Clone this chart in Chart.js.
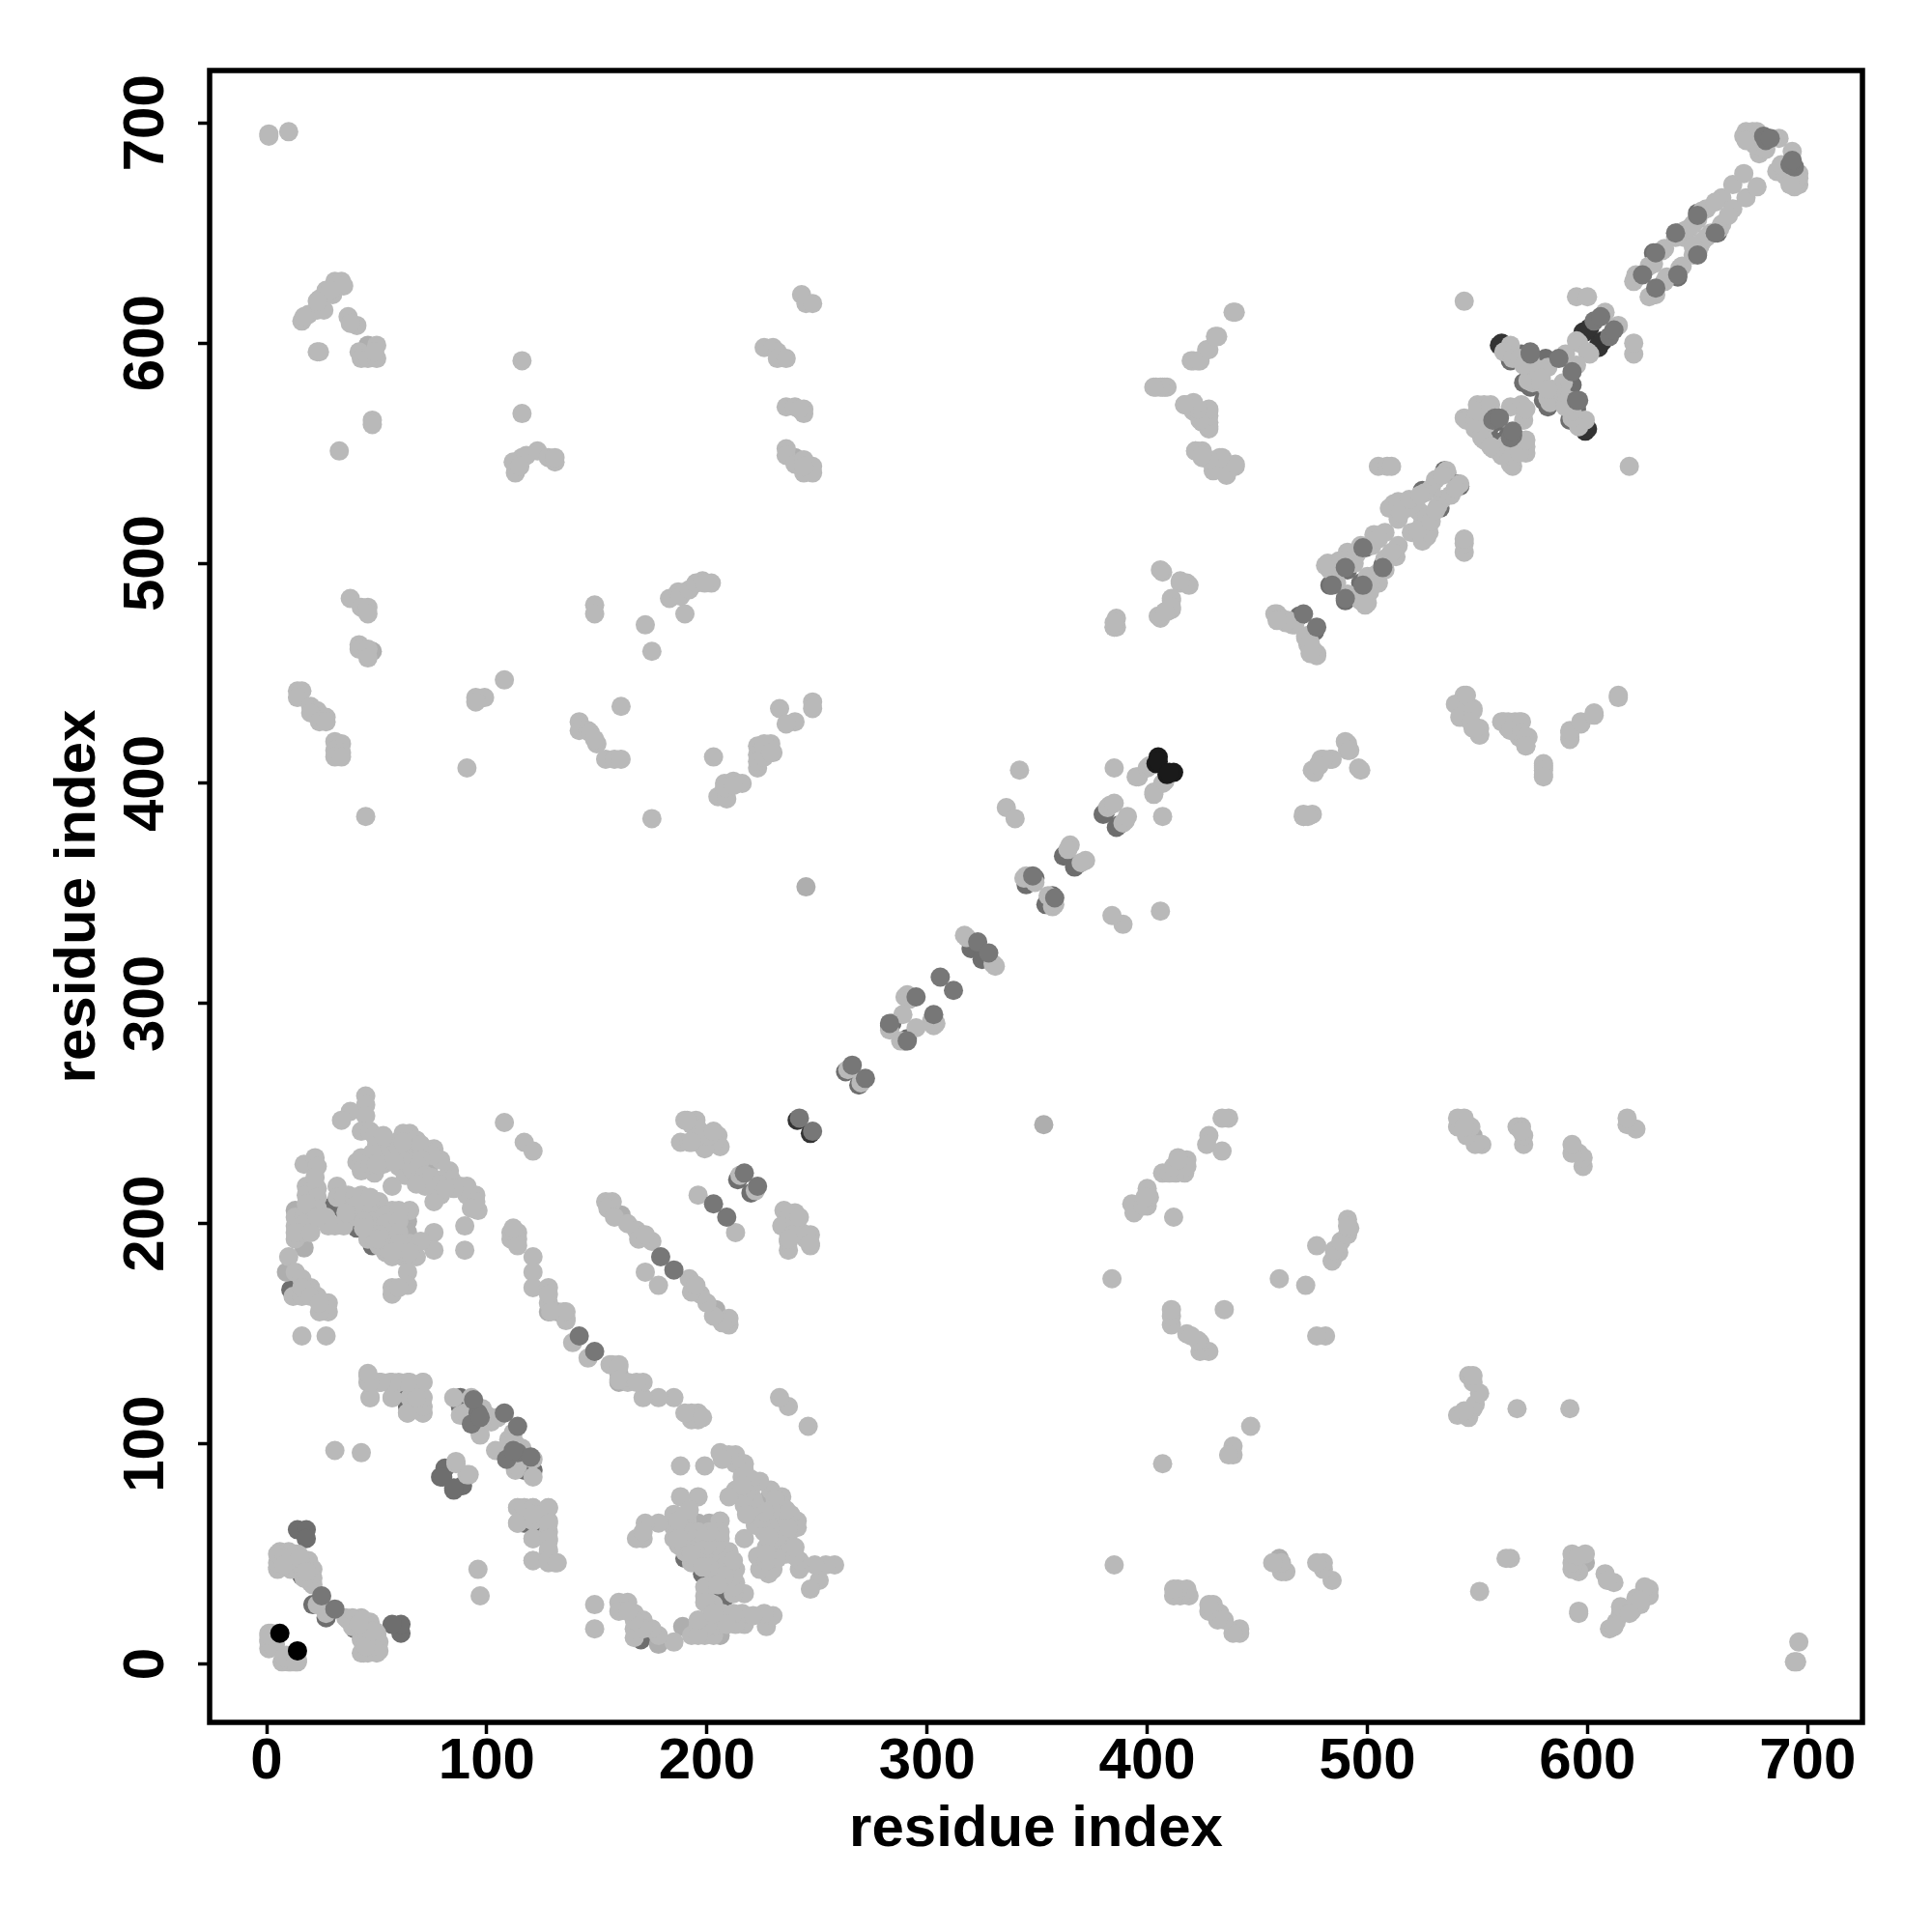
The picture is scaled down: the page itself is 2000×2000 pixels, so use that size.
<!DOCTYPE html>
<html><head><meta charset="utf-8">
<style>html,body{margin:0;padding:0;background:#fff}canvas{display:block}</style>
<script src="https://cdn.jsdelivr.net/npm/chart.js@4"></script></head>
<body><canvas id="c" width="2000" height="2000"></canvas>
<script>
const tickValues=[0,100,200,300,400,500,600,700];
const axisTitle="residue index";
// contact pairs [residue a, residue b]; a contact map is symmetric, each pair is plotted at (a,b) and (b,a)
const contactsBlack=[[6,14]];
const contactsNearBlack=[[405,412],[404,409],[405,410]];
const contactsDarkUnder=[[241,247],[599,605],[598,605],[600,606],[601,607],[560,599],[561,600]];
const contactsMidUnder=[[30,208],[35,206],[38,204],[41,198],[48,190],[11,170],[380,386],[381,387],[362,367],[363,368],[345,354],[349,357],[320,325],[283,290],[284,291],[263,269],[88,121],[90,120],[91,117],[94,111],[88,117],[81,89],[79,85],[80,85],[3,12],[3,9],[17,41],[21,27],[483,490],[488,497],[491,497],[497,507],[499,507],[516,527],[535,542],[525,533],[515,525],[536,541],[553,564],[555,560],[558,564],[565,592],[570,595],[581,593],[574,580],[571,582],[622,630],[630,641],[641,650],[650,659],[469,476],[677,690],[64,121],[64,117],[14,61],[18,61],[18,57],[16,40],[214,220]];
const contactsPale=[[245,353],[48,460],[46,599],[240,548],[9,178],[161,204],[128,160],[132,160],[17,189],[13,206],[64,201],[57,201],[57,196],[64,196],[18,40],[17,44],[72,226],[75,228]];
const contactsLight=[
[1,695],[1,694],[10,696],[16,610],[19,613],[23,615],[24,620],[27,624],[31,628],[34,628],[35,626],[30,622],[26,615],[17,612],[29,624],[23,619],[37,612],[41,608],[38,609],[23,596],[24,596],[42,596],[43,593],[46,593],[50,599],[50,593],[49,596],[48,565],[48,563],[33,551],
[116,592],[116,568],[113,541],[112,546],[116,548],[118,549],[123,551],[128,548],[131,546],[131,548],[115,544],[243,622],[245,618],[248,618],[226,598],[230,598],[232,596],[232,593],[236,593],[236,571],[240,571],[244,570],[244,568],[242,570],[236,552],[236,549],[240,545],[244,547],[248,544],[244,541],[248,541],[244,544],
[38,484],[43,480],[46,480],[46,477],[42,463],[42,461],[46,461],[46,457],[149,481],[149,477],[172,472],[175,460],[183,484],[187,487],[190,477],[188,485],[192,488],[195,491],[198,492],[202,491],[199,491],
[14,442],[16,442],[14,439],[20,435],[23,433],[20,432],[27,430],[24,428],[27,428],[31,419],[34,418],[31,415],[34,414],[31,412],[34,412],[45,385],[108,447],[99,439],[95,439],[95,437],[91,407],[161,435],[142,428],[142,424],[146,424],[147,423],[150,418],[149,420],[154,411],[158,411],[161,411],[175,384],[203,412],[233,434],[240,428],[236,427],[248,437],[248,434],[223,417],[223,413],[223,407],[226,414],[223,410],[226,412],[229,418],[230,414],[226,418],[229,414],[208,400],[212,401],[216,400],[205,394],[209,393],[208,398],[212,399],
[440,614],[432,603],[427,597],[423,592],[420,592],[404,580],[407,580],[409,580],[417,572],[421,573],[421,569],[425,569],[428,569],[425,564],[428,564],[428,561],[424,568],[422,551],[425,551],[425,548],[430,544],[434,548],[436,544],[436,540],[440,544],[433,544],[407,496],[415,491],[419,490],[386,475],[386,471],[385,471],[406,475],[409,478],[411,483],[411,479],[342,406],[385,407],[395,403],[396,403],[400,407],[401,408],
[382,389],[383,390],[385,391],[365,372],[364,370],[344,357],[349,355],[345,358],[346,357],[317,331],[318,330],[290,303],[291,304],[292,302],[289,295],[283,288],[264,270],
[215,222],[196,213],[190,247],[195,247],[193,245],[196,243],[202,241],[205,240],[188,237],[192,237],[196,237],[199,235],[206,235],[200,238],[203,237],
[154,210],[157,210],[155,207],[158,203],[164,200],[168,197],[169,193],[175,192],[172,195],[172,178],[111,196],[114,196],[111,193],[114,193],[114,190],[121,185],[121,178],[121,171],[128,171],[128,164],[136,160],[136,156],[139,146],[136,157],[135,160],[129,160],[128,168],[112,198],[108,246],[117,237],[121,233],
[199,234],[201,240],[191,247],[195,239],[203,242],[193,237],
[45,258],[45,254],[38,251],[34,247],[45,249],[43,242],[47,242],[53,238],[62,241],[65,241],[68,238],[57,234],[59,237],[76,234],[72,234],[63,232],[66,229],[79,229],[83,224],[60,226],[63,222],[68,222],[71,219],[76,217],[79,213],[76,210],[41,228],[43,230],[43,224],[49,223],[53,227],[57,217],[56,229],[88,217],[91,217],[95,213],[91,213],[96,206],[95,210],[93,207],[90,199],[90,188],
[50,236],[55,236],[53,233],[58,232],[60,234],[65,237],[62,237],[70,236],[75,231],[70,229],[63,228],[58,228],[66,225],[69,226],[72,222],[75,221],[80,220],[84,220],[78,218],[72,217],[68,218],[48,232],[47,227],[50,227],[49,240],[53,240],[85,216],[81,216],
[17,227],[22,230],[23,226],[18,217],[18,213],[23,216],[23,212],[13,199],[23,207],[20,200],[13,193],[10,185],[27,203],[31,199],[35,199],[28,199],[13,203],[17,203],[17,200],[17,196],[13,196],[20,196],[22,221],[18,209],[23,203],
[32,217],[37,213],[43,213],[51,210],[57,206],[65,206],[32,212],[37,208],[43,207],[51,204],[41,203],[47,199],[53,195],[57,191],[65,191],[54,187],[57,185],[62,185],[68,185],[51,190],[46,193],[76,196],[76,188],[70,192],[64,178],[64,172],[57,171],[57,168],[60,171],
[40,207],[44,205],[47,205],[48,201],[51,200],[54,204],[54,200],[54,192],[60,206],[60,201],[60,196],[60,191],[60,187],[65,187],[51,195],[47,195],[57,187],[35,212],[40,212],[47,212],[40,208],[36,205],[44,201],[50,193],[44,198],
[13,178],[16,175],[20,171],[12,167],[16,167],[23,167],[28,164],[28,160],[24,160],[19,170],[16,149],[27,149],[16,171],[20,167],[24,164],
[46,128],[51,128],[56,128],[60,128],[65,128],[71,128],[47,121],[57,121],[46,131],[64,114],[71,114],[71,117],[71,121],[68,121],[65,121],[31,97],[43,96],
[85,121],[88,113],[90,114],[98,116],[97,104],[100,113],[102,110],[105,112],[93,121],
[114,71],[117,71],[121,71],[128,71],[114,64],[121,68],[121,57],[121,47],[128,64],[128,57],[128,52],[128,47],[132,46],
[6,51],[10,51],[13,50],[5,44],[6,47],[15,49],[19,47],[21,43],[21,39],[21,36],[13,44],[17,46],[16,43],[19,42],[10,47],[23,27],
[20,37],[20,40],[20,44],[17,39],[17,47],[11,43],[14,50],[10,50],[5,43],[5,46],[5,50],[11,47],[16,44],[12,50],[8,48],[14,46],[8,45],[15,48],[18,42],
[1,14],[1,10],[1,7],[1,11],[2,9],[4,9],[2,14],[3,8],[1,13],
[86,91],[92,86],
[483,497],[486,491],[481,499],[487,501],[491,505],[494,500],[502,508],[508,514],[512,525],[518,525],[514,520],[523,524],[529,534],[531,538],[536,542],[512,527],[510,525],[521,527],[505,544],[509,544],[511,544],[514,528],[482,500],[502,509],[497,508],[503,513],[488,501],[491,500],[495,504],[505,511],[526,532],[534,540],[515,523],[519,529],[524,531],
[459,477],[463,473],[467,472],[458,477],[466,472],[461,475],[464,474],[459,474],
[595,621],[600,621],[595,601],[596,600],[608,614],[565,599],[562,596],[566,593],[574,592],[569,593],[582,589],[590,595],[575,582],[574,585],[573,583],[573,590],[571,590],[578,588],[579,584],[579,582],
[550,572],[553,572],[555,571],[544,566],[554,563],[552,557],[545,565],[544,619],[552,566],[549,565],[549,561],[565,571],[570,572],[550,569],[556,572],[552,558],[553,556],[556,566],
[436,541],[440,545],[430,542],[433,548],[422,551],[428,547],[425,549],[428,562],[428,567],[428,570],[424,565],[423,570],[421,572],[417,572],[408,580],[406,580],[403,580],[421,592],[424,592],[428,597],[431,603],[439,614],
[406,497],[418,491],[415,492],[411,484],[411,480],[405,476],[408,478],[385,471],[385,473],[336,389],[340,384],
[622,631],[621,628],[634,642],[644,651],[646,652],[652,660],[654,661],[661,666],[666,672],[671,677],[672,696],[671,694],[674,693],[677,696],[675,696],[678,686],[687,693],[674,695],[640,648],[635,643],[628,635],[658,664],[650,656],[648,654],[630,636],[644,648],[676,690],[678,692],[681,688],[672,692]
];
const contactsMidTop=[[242,248],[217,223],[203,209],[179,185],[142,149],[108,114],[25,31],[266,272],[295,303],[283,291],[323,328],[306,312],[348,358],[471,477],[558,566],[587,593],[603,610],[606,612],[625,631],[631,641],[680,694],[681,692],[683,693],[574,595],[557,565],[574,596],[93,109],[96,114],[94,120],[97,112],[484,490],[498,507],[490,498],[640,650],[650,658],[560,566]];

function mirror(pairs){return pairs.flatMap(([a,b])=>[{x:a,y:b},{x:b,y:a}]);}
function layer(pairs,color){return{type:'scatter',data:mirror(pairs),showLine:false,backgroundColor:color,borderWidth:0,pointRadius:10,pointHoverRadius:10,pointBorderWidth:0};}
const box={id:'box',afterDraw(ch){const a=ch.chartArea,g=ch.ctx;g.save();g.strokeStyle='#000';g.lineWidth=5.5;g.lineJoin='miter';g.strokeRect(a.left,a.top,a.right-a.left,a.bottom-a.top);g.restore();}};
const font={family:'"Liberation Sans"',weight:'bold',size:60};
new Chart(document.getElementById('c'),{
 data:{datasets:[
  layer(contactsBlack,'#000000'),layer(contactsNearBlack,'#1a1a1a'),layer(contactsMidTop,'#777777'),
  layer(contactsLight,'#b9b9b9'),layer(contactsPale,'#aeaeae'),layer(contactsMidUnder,'#6e6e6e'),layer(contactsDarkUnder,'#333333')
 ]},
 plugins:[box],
 options:{responsive:false,animation:false,devicePixelRatio:1,
  layout:{padding:{top:73,right:72,left:0,bottom:0}},
  plugins:{legend:{display:false},tooltip:{enabled:false}},
  scales:{
   x:{type:'linear',position:'bottom',min:-25.9,max:724.9,
    afterBuildTicks:s=>{s.ticks=tickValues.map(v=>({value:v}));},
    afterFit:s=>{s.height=217;},
    grid:{display:true,drawOnChartArea:false,drawTicks:true,tickLength:12,tickWidth:3.5,tickColor:'#000'},border:{display:false},
    ticks:{autoSkip:false,maxRotation:0,minRotation:0,color:'#000',font,padding:-7,callback:v=>String(v)},
    title:{display:true,text:axisTitle,color:'#000',font,padding:{top:6,bottom:70}}},
   y:{type:'linear',position:'left',min:-26.5,max:723.8,
    afterBuildTicks:s=>{s.ticks=tickValues.map(v=>({value:v}));},
    afterFit:s=>{s.width=217;},
    grid:{display:true,drawOnChartArea:false,drawTicks:true,tickLength:12,tickWidth:3.5,tickColor:'#000'},border:{display:false},
    ticks:{autoSkip:false,maxRotation:90,minRotation:90,crossAlign:'center',color:'#000',font,padding:2,callback:v=>String(v)},
    title:{display:true,text:axisTitle,color:'#000',font,padding:{top:45,bottom:0}}}
  }}
});
</script></body></html>
